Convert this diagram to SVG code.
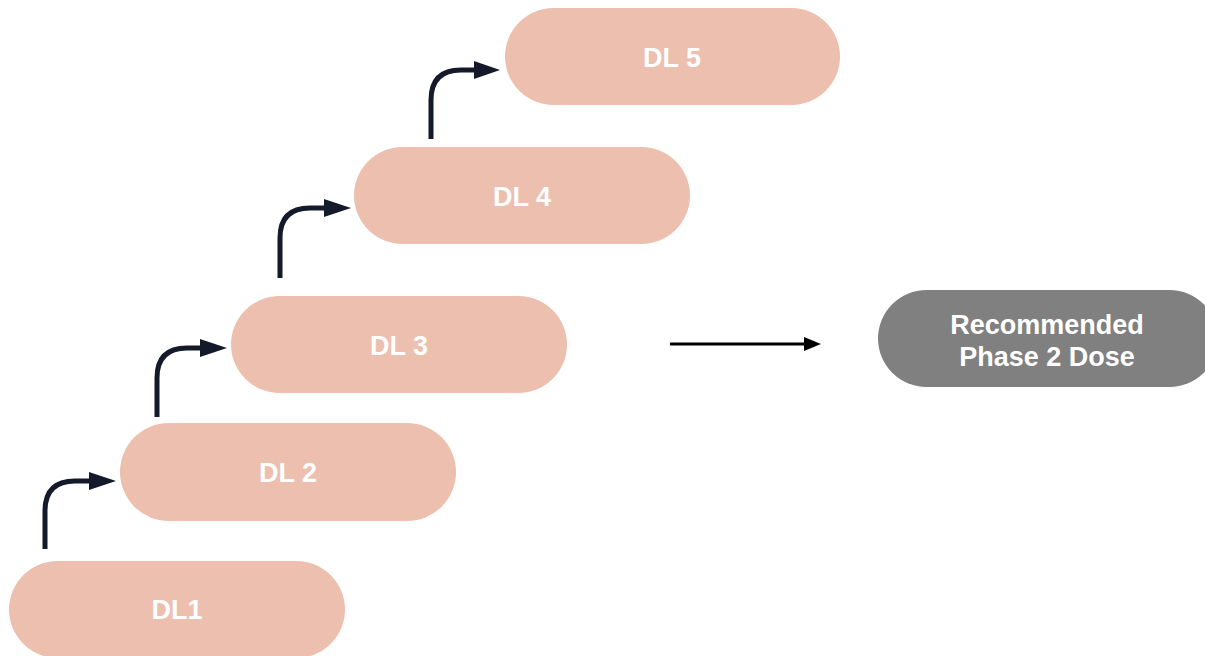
<svg xmlns="http://www.w3.org/2000/svg" width="1205" height="656" viewBox="0 0 1205 656">
<defs>
<style>
.pill{fill:#ecbfaf}
.gray{fill:#808080}
.lbl{font-family:"Liberation Sans",Arial,sans-serif;font-weight:bold;font-size:27px;fill:#ffffff;text-anchor:middle}
.curve{fill:none;stroke:#141a2a;stroke-width:5}
.head{fill:#141a2a}
</style>
</defs>
<rect width="1205" height="656" fill="#ffffff"/>
<g id="dl1"><rect class="pill" x="9" y="561" width="336" height="97" rx="48.5"/><text class="lbl" x="177" y="619">DL1</text></g>
<g id="dl2"><rect class="pill" x="120" y="423" width="336" height="98" rx="49"/><text class="lbl" x="288" y="482">DL 2</text></g>
<g id="dl3"><rect class="pill" x="231" y="296" width="336" height="97" rx="48.5"/><text class="lbl" x="399" y="355">DL 3</text></g>
<g id="dl4"><rect class="pill" x="354" y="147" width="336" height="97" rx="48.5"/><text class="lbl" x="522" y="206">DL 4</text></g>
<g id="dl5"><rect class="pill" x="505" y="8" width="335" height="97" rx="48.5"/><text class="lbl" x="672" y="67">DL 5</text></g>
<g id="rp2d"><rect class="gray" x="878" y="290" width="340" height="97" rx="48.5"/><text class="lbl" x="1047" y="334">Recommended</text><text class="lbl" x="1047" y="366">Phase 2 Dose</text></g>
<g id="connectors">
<path class="curve" d="M45 549 V511 Q45 481 75 481 H92"/><polygon class="head" points="89,472 116,481 89,490"/>
<path class="curve" d="M157 417 V378 Q157 348 187 348 H203"/><polygon class="head" points="200,339 227,348 200,357"/>
<path class="curve" d="M280 278 V238 Q280 208 310 208 H327"/><polygon class="head" points="324,199 351,208 324,217"/>
<path class="curve" d="M431 139 V100 Q431 70 461 70 H477"/><polygon class="head" points="474,61 500,70 474,79"/>
<line x1="670" y1="344" x2="806" y2="344" stroke="#000000" stroke-width="3"/><polygon points="804,337 821,344 804,351" fill="#000000"/>
</g>
</svg>
